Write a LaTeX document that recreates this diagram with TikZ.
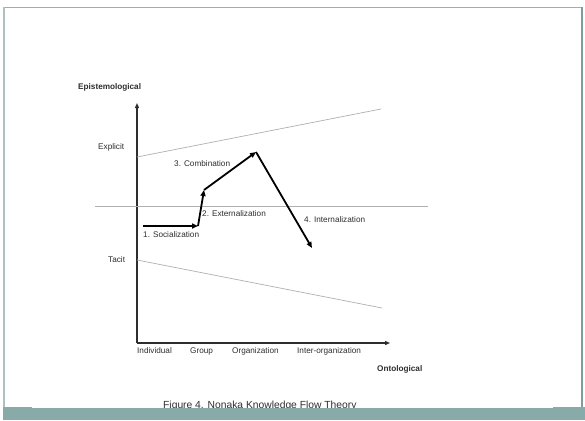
\documentclass[tikz,border=0pt]{standalone}
\usepackage{fontspec}
\setmainfont{Liberation Sans}
\usetikzlibrary{arrows.meta}
\definecolor{slideteal}{HTML}{88ABAA}
\definecolor{frameleft}{HTML}{AFC0C0}
\definecolor{frametop}{HTML}{93B2B1}
\definecolor{frameright}{HTML}{7A9F9E}
\definecolor{inkgray}{HTML}{2E2E2E}
\definecolor{guidegray}{HTML}{B0B0B0}
\tikzset{
  axisline/.style={draw=inkgray, line width=1.2pt, -{Triangle[length=5pt,width=4pt]}},
  guideline/.style={draw=guidegray, line width=0.7pt},
  flowarrow/.style={draw=black, line width=1.8pt, -{Triangle[length=6pt,width=5pt]}},
  lbl/.style={anchor=base west, inner sep=0pt, text=inkgray, font=\fontsize{8.2}{9}\selectfont},
  boldlbl/.style={lbl, font=\fontsize{8.2}{9}\selectfont\bfseries},
}
\begin{document}
\begin{tikzpicture}[x=1pt,y=-1pt]
  \useasboundingbox[fill=white] (0,0) rectangle (585,420);

  % slide frame and footer band
  \draw[frametop, line width=1.8pt] (3,7.5) -- (582,7.5);
  \draw[frameleft, line width=2pt] (3.5,7) -- (3.5,408);
  \draw[frameright, line width=2pt] (581.5,7) -- (581.5,408);
  \fill[slideteal] (3,407) rectangle (585,420);
  \fill[white] (32,406.5) rectangle (553,408);

  % axes
  \coordinate (O) at (137,343);
  \coordinate (ytop) at (137,103);
  \coordinate (xend) at (390,343);
  \draw[axisline] (O) -- (ytop);
  \draw[axisline] (O) -- (xend);

  % boundary lines of the knowledge spiral
  \coordinate (exA) at (137,157);
  \coordinate (exB) at (381,109);
  \coordinate (taA) at (137,260);
  \coordinate (taB) at (382,308);
  \coordinate (midA) at (95,206);
  \coordinate (midB) at (428,206);
  \draw[guideline] (exA) -- (exB);
  \draw[guideline] (taA) -- (taB);
  \draw[guideline] (midA) -- (midB);

  % knowledge flow path
  \coordinate (s0) at (143,226);
  \coordinate (s1) at (198,226);
  \coordinate (e1) at (204,190);
  \coordinate (c1) at (256,152);
  \coordinate (i1) at (312,248);
  \draw[flowarrow] (s0) -- (s1);
  \draw[flowarrow] (s1) -- (e1);
  \draw[flowarrow] (e1) -- (c1);
  \draw[flowarrow] (c1) -- (i1);

  % labels
  \node[boldlbl] (epi) at (78,89) {Epistemological};
  \node[lbl] (expl) at (98,149) {Explicit};
  \node[lbl] (tac) at (108,262) {Tacit};
  \node[lbl] (soc) at (143,237) {1. Socialization};
  \node[lbl] (ext) at (202,216) {2. Externalization};
  \node[lbl] (com) at (174,166) {3. Combination};
  \node[lbl] (int) at (304,222) {4. Internalization};
  \node[lbl] (ind) at (137,353) {Individual};
  \node[lbl] (grp) at (190,353) {Group};
  \node[lbl] (org) at (232,353) {Organization};
  \node[lbl] (inter) at (297,353) {Inter-organization};
  \node[boldlbl] (onto) at (377,371) {Ontological};

  % caption, cut off by the footer band
  \begin{scope}
    \clip (0,0) rectangle (585,407.8);
    \node[lbl, font=\fontsize{10.3}{12}\selectfont] (cap) at (163,408.5) {Figure 4. Nonaka Knowledge Flow Theory};
  \end{scope}
\end{tikzpicture}
\end{document}
